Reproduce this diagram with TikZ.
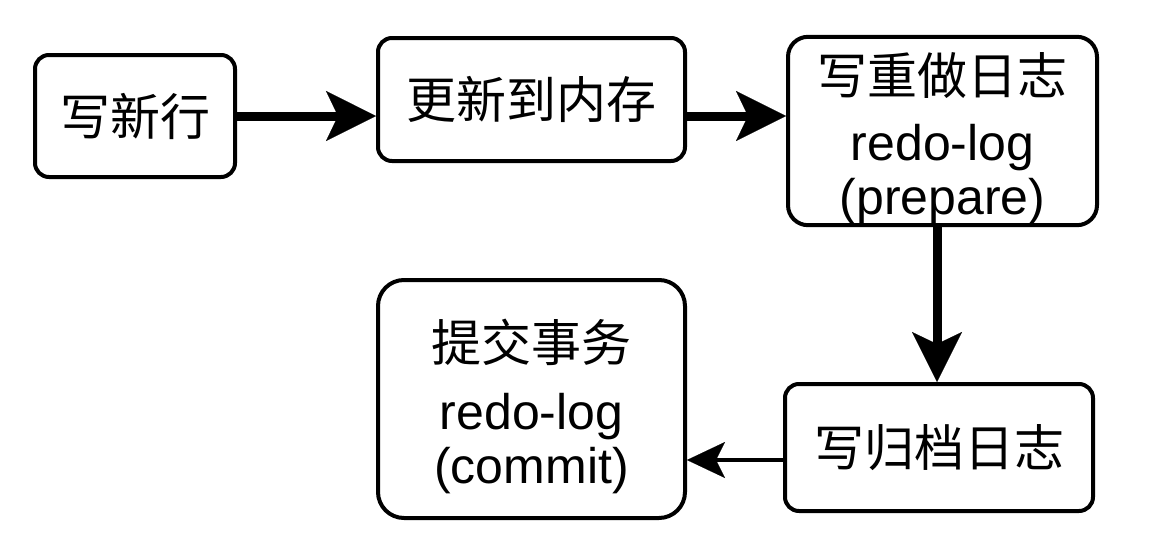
\documentclass[tikz,border=0pt]{standalone}
\usepackage{fontspec}
\setmainfont{Liberation Sans}
\newfontfamily\cjk{Noto Sans CJK SC}
\usetikzlibrary{arrows.meta}
\newcommand{\topgap}{\rule{0pt}{58pt}}
\begin{document}
\begin{tikzpicture}[x=1pt,y=-1pt,
 box/.style={draw=black, line width=4pt, fill=white, align=center, inner sep=0pt, font=\fontsize{50}{54}\selectfont},
 thickarrow/.style={line width=9pt, -{Stealth[length=50pt,width=50pt,inset=12pt,line width=0.1pt]}},
 thinarrow/.style={line width=4.5pt, -{Stealth[length=38pt,width=36pt,inset=9pt,line width=0.1pt]}}]
\useasboundingbox (0,0) rectangle (1152,544);
\node[box, rounded corners=14pt, minimum width=200pt, minimum height=122pt] (b1) at (135,116) {\cjk 写新行};
\node[box, rounded corners=14pt, minimum width=307pt, minimum height=123pt] (b2) at (531.5,99.5) {\cjk 更新到内存};
\node[box, rounded corners=20pt, minimum width=309pt, minimum height=188pt] (b3) at (942.5,131) {{\topgap\cjk 写重做日志}\\[12pt] redo-log\\ (prepare)};
\node[box, rounded corners=14pt, minimum width=308pt, minimum height=127pt] (b4) at (939,447.5) {\cjk 写归档日志};
\node[box, rounded corners=26pt, minimum width=307pt, minimum height=238pt] (b5) at (531.5,399) {{\topgap\cjk 提交事务}\\[14pt] redo-log\\ (commit)};
\coordinate (vx) at (937,0);
\coordinate (hy) at (0,460);
\draw[thickarrow] (b1.east) -- (b2.west |- b1.east);
\draw[thickarrow] (b2.east |- b1.east) -- (b3.west |- b1.east);
\draw[thickarrow] (b3.south -| vx) -- (b4.north -| vx);
\draw[thinarrow] (b4.west |- hy) -- (b5.east |- hy);
\end{tikzpicture}
\end{document}
